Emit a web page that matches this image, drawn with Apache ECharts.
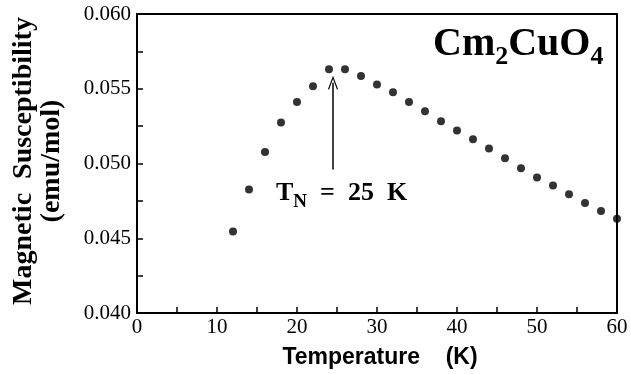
<!DOCTYPE html>
<html>
<head>
<meta charset="utf-8">
<script src="https://cdn.jsdelivr.net/npm/echarts@6/dist/echarts.min.js"></script>
<style>
  html, body { margin: 0; padding: 0; background: #fff; }
  #chart { width: 631px; height: 374px; }
</style>
</head>
<body>
<div id="chart"></div>
<script>
// Cm2CuO4 susceptibility vs temperature
var temps = [12, 14, 16, 18, 20, 22, 24, 26, 28, 30, 32, 34, 36, 38, 40, 42, 44, 46, 48, 50, 52, 54, 56, 58, 60];
var chi = [0.04545, 0.04826, 0.05077, 0.05275, 0.05412, 0.05517, 0.05630, 0.05630, 0.05585, 0.05529,
           0.05477, 0.05412, 0.05349, 0.05282, 0.05221, 0.05163, 0.05100, 0.05035, 0.04968, 0.04907,
           0.04853, 0.04795, 0.04736, 0.04682, 0.04631];
var arrowT = 24.5;
var arrowFrom = 0.0496, arrowTo = 0.0554;

var chart = echarts.init(document.getElementById('chart'));
var pts = [];
for (var i = 0; i < temps.length; i++) pts.push([temps[i], chi[i]]);

var serif = '"Liberation Serif", "DejaVu Serif", serif';
var sans = '"Liberation Sans", Arial, sans-serif';

option = {
    animation: false,
    grid: {
        left: 137, top: 14, right: 14, bottom: 61,
        show: true, borderColor: '#000', borderWidth: 2
    },
    xAxis: {
        type: 'value', min: 0, max: 60, interval: 10,
        axisLine: { lineStyle: { color: '#000', width: 2 } },
        axisTick: { inside: true, length: 6, lineStyle: { color: '#000', width: 1.5 } },
        minorTick: { show: true, splitNumber: 2, length: 6, lineStyle: { color: '#000', width: 1.5 } },
        splitLine: { show: false },
        axisLabel: { color: '#000', fontFamily: serif, fontSize: 21, margin: 4 }
    },
    yAxis: {
        type: 'value', min: 0.04, max: 0.06, interval: 0.005,
        axisLine: { lineStyle: { color: '#000', width: 2 } },
        axisTick: { inside: true, length: 6, lineStyle: { color: '#000', width: 1.5 } },
        minorTick: { show: true, splitNumber: 2, length: 6, lineStyle: { color: '#000', width: 1.5 } },
        splitLine: { show: false },
        axisLabel: {
            color: '#000', fontFamily: serif, fontSize: 21, margin: 6,
            formatter: function (v) { return v.toFixed(3); }
        }
    },
    graphic: [
        {
            type: 'text', x: 38, y: 161, rotation: Math.PI / 2,
            style: {
                text: 'Magnetic  Susceptibility\n(emu/mol)',
                font: 'bold 28px ' + serif,
                fill: '#000', textAlign: 'center', textVerticalAlign: 'middle', lineHeight: 28
            }
        },
        {
            type: 'text', x: 380, y: 358,
            style: {
                text: 'Temperature    (K)',
                font: 'bold 23px ' + sans,
                fill: '#000', textAlign: 'center', textVerticalAlign: 'middle'
            }
        },
        {
            type: 'text', x: 433, y: 25,
            style: {
                text: '{m|Cm}{s|2}{m|CuO}{s|4}',
                fill: '#000',
                rich: {
                    m: { font: 'bold 40px ' + serif, lineHeight: 40, verticalAlign: 'top' },
                    s: { font: 'bold 26px ' + serif, lineHeight: 26, verticalAlign: 'top', padding: [19, 0, 0, 0] }
                }
            }
        },
        {
            type: 'text', x: 276, y: 180,
            style: {
                text: '{m|T}{s|N}{m|  =  25  K}',
                fill: '#000',
                rich: {
                    m: { font: 'bold 26px ' + serif, lineHeight: 26, verticalAlign: 'top' },
                    s: { font: 'bold 19px ' + serif, lineHeight: 19, verticalAlign: 'top', padding: [13, 0, 0, 0] }
                }
            }
        }
    ],
    series: [
        {
            type: 'scatter',
            data: pts,
            symbol: 'circle',
            symbolSize: 8,
            clip: false,
            itemStyle: { color: '#000' },
            markLine: {
                silent: true,
                symbolSize: [10, 14],
                label: { show: false },
                lineStyle: { color: '#000', width: 1.5, type: 'solid' },
                data: [[
                    { coord: [arrowT, arrowFrom], symbol: 'none' },
                    { coord: [arrowT, arrowTo], symbol: 'path://M0,10 L5,0 L10,10 L9,10.6 L5,2.4 L1,10.6 Z' }
                ]]
            }
        }
    ]
};
chart.setOption(option);
</script>
</body>
</html>
